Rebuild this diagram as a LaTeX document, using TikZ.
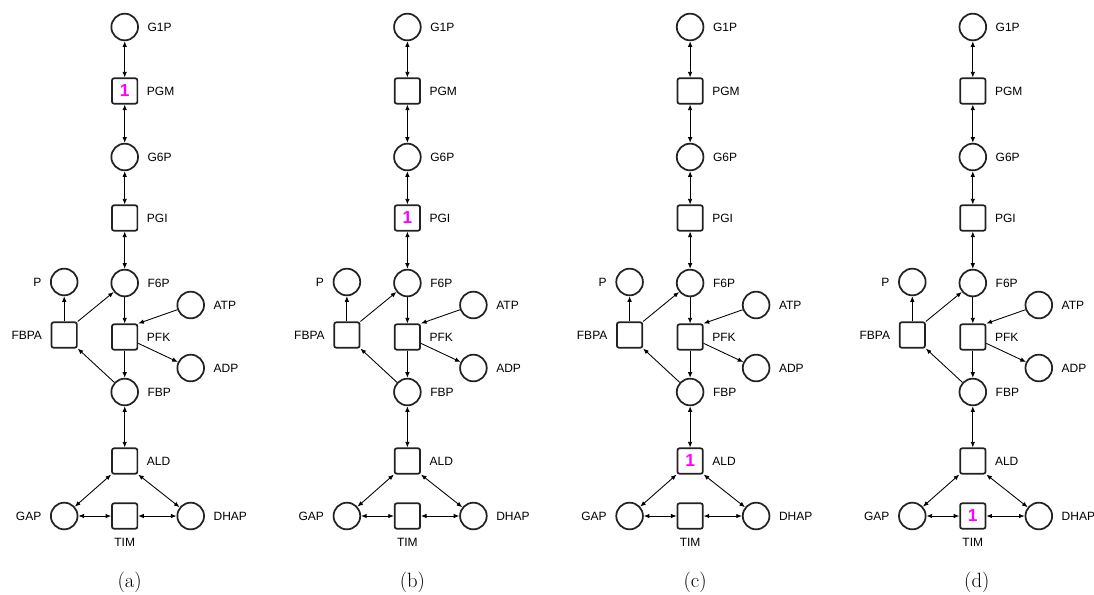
\documentclass[tikz,border=0pt]{standalone}
\usepackage{fontspec}
\usepackage{xcolor}
\usepackage{tikz}
\usetikzlibrary{arrows.meta, positioning}
\setsansfont{Liberation Sans}
\definecolor{netgray}{HTML}{222222}
\definecolor{tokenpink}{HTML}{FF00FF}

\tikzset{
    metab/.style={circle, draw=netgray, line width=1.3pt, minimum size=20pt, inner sep=0pt},
    enzyme/.style={rectangle, draw=netgray, line width=1.3pt, rounded corners=1.5pt, minimum size=19pt, inner sep=0pt},
    token/.style={font=\sffamily\bfseries\fontsize{13}{13}\selectfont, text=tokenpink, inner sep=0pt},
    oneway/.style={-{Latex[length=4.2pt, width=3.4pt]}, line width=0.65pt},
    twoway/.style={{Latex[length=4.2pt, width=3.4pt]}-{Latex[length=4.2pt, width=3.4pt]}, line width=0.65pt},
    subcap/.style={font=\fontsize{15.5}{18}\selectfont},
}

% one copy of the upper glycolysis net, column centred on x = 0
\newcommand{\glycnet}{%
    \node[metab,  label=right:G1P]  (G1P)  at (0, -27)    {};
    \node[enzyme, label=right:PGM]  (PGM)  at (0, -91)    {};
    \node[metab,  label=right:G6P]  (G6P)  at (0, -157)   {};
    \node[enzyme, label=right:PGI]  (PGI)  at (0, -218)   {};
    \node[metab,  label=right:F6P]  (F6P)  at (0, -283)   {};
    \node[enzyme, label=right:PFK]  (PFK)  at (0, -337)   {};
    \node[metab,  label=right:FBP]  (FBP)  at (0, -392)   {};
    \node[enzyme, label=right:ALD]  (ALD)  at (0, -461)   {};
    \node[enzyme, label=below:TIM]  (TIM)  at (0, -516)   {};
    \node[metab,  label=left:GAP]   (GAP)  at (-60.5, -516) {};
    \node[metab,  label=right:DHAP] (DHAP) at (66, -516)  {};
    \node[metab,  label=left:P]     (P)    at (-60.5, -282) {};
    \node[enzyme, label=left:FBPA]  (FBPA) at (-60.5, -335) {};
    \node[metab,  label=right:ATP]  (ATP)  at (66, -305)  {};
    \node[metab,  label=right:ADP]  (ADP)  at (66, -368)  {};
    % arcs
    \draw[twoway] (G1P) -- (PGM);
    \draw[twoway] (PGM) -- (G6P);
    \draw[twoway] (G6P) -- (PGI);
    \draw[twoway] (PGI) -- (F6P);
    \draw[oneway] (F6P) -- (PFK);
    \draw[oneway] (ATP) -- (PFK.north east);
    \draw[oneway] (PFK) -- (ADP);
    \draw[oneway] (PFK) -- (FBP);
    \draw[oneway] (FBP) -- (FBPA.south east);
    \draw[oneway] (FBPA.north east) -- (F6P);
    \draw[oneway] (FBPA) -- (P);
    \draw[twoway] (FBP) -- (ALD);
    \draw[twoway] (ALD.south west) -- (GAP);
    \draw[twoway] (ALD.south east) -- (DHAP);
    \draw[twoway] (GAP) -- (TIM);
    \draw[twoway] (TIM) -- (DHAP);
}

\begin{document}
\begin{tikzpicture}[
    x=0.75pt, y=0.75pt,
    label distance=3pt,
    every label/.style={font=\sffamily\fontsize{9}{10}\selectfont},
]
    \useasboundingbox (0, 0) rectangle (1094, -594);

    % (a) token on PGM
    \begin{scope}[shift={(124.7, 0)}, name prefix=a-]
        \glycnet
        \node[token] at (PGM) {1};
        \node[subcap] (cap) at (5, -582) {(a)};
    \end{scope}

    % (b) token on PGI
    \begin{scope}[shift={(407.4, 0)}, name prefix=b-]
        \glycnet
        \node[token] at (PGI) {1};
        \node[subcap] (cap) at (5, -582) {(b)};
    \end{scope}

    % (c) token on ALD
    \begin{scope}[shift={(690.1, 0)}, name prefix=c-]
        \glycnet
        \node[token] at (ALD) {1};
        \node[subcap] (cap) at (5, -582) {(c)};
    \end{scope}

    % (d) token on TIM
    \begin{scope}[shift={(972.8, 0)}, name prefix=d-]
        \glycnet
        \node[token] at (TIM) {1};
        \node[subcap] (cap) at (4, -582) {(d)};
    \end{scope}
\end{tikzpicture}
\end{document}
